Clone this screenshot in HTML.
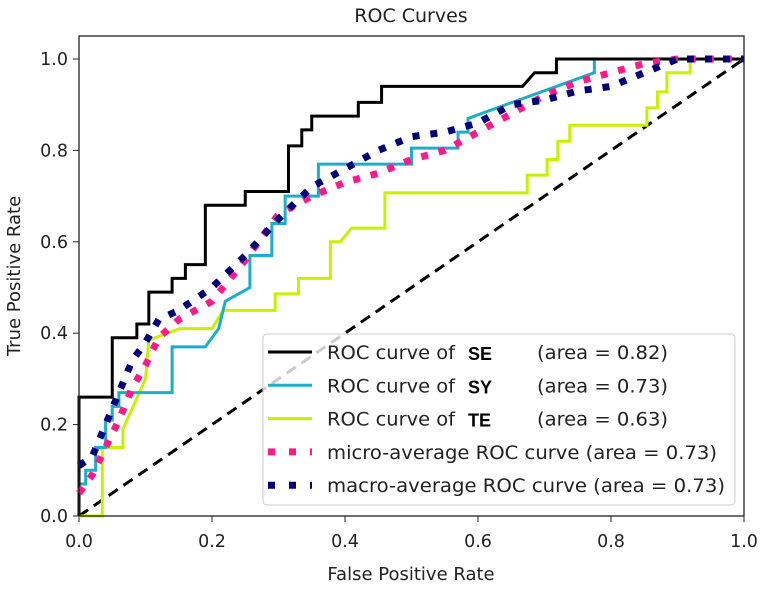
<!DOCTYPE html>
<html><head><meta charset="utf-8"><style>
body{margin:0;background:#fff;}
svg text{font-family:"DejaVu Sans","Liberation Sans",sans-serif;fill:#222;}
</style></head><body>
<svg id="chart" width="762" height="585" viewBox="0 0 762 585">
<text x="411" y="22" font-size="19" text-anchor="middle">ROC Curves</text>
<g id="ticks"></g>
<g id="series"></g>
<rect x="79" y="36" width="665" height="480" fill="none" stroke="#222" stroke-width="1.3"/>
<text x="411" y="580" font-size="18" text-anchor="middle">False Positive Rate</text>
<text transform="translate(20,276) rotate(-90)" font-size="18" text-anchor="middle">True Positive Rate</text>
<g id="legend"></g>
</svg>
<script>
const xTicks=[0,0.2,0.4,0.6,0.8,1.0];
const yTicks=[0,0.2,0.4,0.6,0.8,1.0];
const seX=[0,0,0.05,0.05,0.087,0.087,0.105,0.105,0.14,0.14,0.16,0.16,0.19,0.19,0.25,0.25,0.315,0.315,0.335,0.335,0.35,0.35,0.42,0.42,0.455,0.455,0.667,0.685,0.718,0.718,1];
const seY=[0,0.26,0.26,0.39,0.39,0.42,0.42,0.49,0.49,0.52,0.52,0.55,0.55,0.68,0.68,0.71,0.71,0.81,0.81,0.845,0.845,0.875,0.875,0.905,0.905,0.94,0.94,0.97,0.97,1,1];
const syX=[0,0,0.01,0.01,0.025,0.025,0.04,0.04,0.05,0.05,0.06,0.06,0.14,0.14,0.19,0.21,0.22,0.22,0.257,0.257,0.29,0.29,0.31,0.31,0.36,0.36,0.5,0.5,0.57,0.57,0.585,0.585,0.775,0.775,1];
const syY=[0,0.07,0.07,0.1,0.1,0.15,0.15,0.21,0.21,0.24,0.24,0.27,0.27,0.37,0.37,0.41,0.47,0.47,0.5,0.57,0.57,0.64,0.64,0.70,0.70,0.77,0.77,0.805,0.805,0.84,0.84,0.87,0.97,1,1];
const teX=[0,0.035,0.035,0.066,0.066,0.10,0.105,0.152,0.2,0.217,0.295,0.295,0.33,0.33,0.378,0.378,0.393,0.41,0.46,0.46,0.674,0.674,0.704,0.704,0.72,0.72,0.738,0.738,0.854,0.854,0.87,0.87,0.884,0.884,0.919,0.919,1];
const teY=[0,0,0.15,0.15,0.19,0.30,0.385,0.41,0.41,0.45,0.45,0.486,0.486,0.52,0.52,0.60,0.60,0.63,0.63,0.707,0.707,0.746,0.746,0.78,0.78,0.82,0.82,0.855,0.855,0.893,0.893,0.928,0.928,0.97,0.97,1,1];
const microX=[0,0.02,0.04,0.06,0.08,0.1,0.12,0.15,0.2,0.25,0.3,0.35,0.4,0.45,0.5,0.55,0.6,0.65,0.7,0.75,0.8,0.85,0.9,1];
const microY=[0.05,0.09,0.15,0.21,0.28,0.33,0.39,0.43,0.47,0.56,0.66,0.70,0.73,0.75,0.78,0.80,0.84,0.88,0.92,0.95,0.97,0.99,1.0,1.0];
const macroX=[0,0.02,0.04,0.06,0.08,0.1,0.12,0.15,0.2,0.25,0.3,0.35,0.4,0.45,0.5,0.55,0.6,0.65,0.7,0.75,0.8,0.85,0.9,1];
const macroY=[0.11,0.13,0.2,0.27,0.34,0.38,0.43,0.45,0.5,0.57,0.65,0.72,0.76,0.8,0.83,0.84,0.86,0.9,0.91,0.93,0.94,0.97,1.0,1.0];
const diagX=[0,1];
const diagY=[0,1];

const NS="http://www.w3.org/2000/svg";
const X0=79,X1=744,Y0=516,Y1=59;
function sx(v){return X0+v*(X1-X0);}
function sy(v){return Y0-v*(Y0-Y1);}
const tg=document.getElementById('ticks');
xTicks.forEach(t=>{
  const l=document.createElementNS(NS,'line');
  l.setAttribute('x1',sx(t));l.setAttribute('x2',sx(t));l.setAttribute('y1',516);l.setAttribute('y2',522);l.setAttribute('stroke','#222');
  
  
  tg.appendChild(l);
  const tx=document.createElementNS(NS,'text');
  tx.setAttribute('x',sx(t));tx.setAttribute('y',547);tx.setAttribute('font-size','17.5');tx.setAttribute('text-anchor','middle');
  tx.textContent=t.toFixed(1);
  
  
  tg.appendChild(tx);
});
yTicks.forEach(t=>{
  const l=document.createElementNS(NS,'line');
  l.setAttribute('x1',73);l.setAttribute('x2',79);l.setAttribute('y1',sy(t));l.setAttribute('y2',sy(t));l.setAttribute('stroke','#222');
  
  
  tg.appendChild(l);
  const tx=document.createElementNS(NS,'text');
  tx.setAttribute('x',68);tx.setAttribute('y',sy(t)+6);tx.setAttribute('font-size','17.5');tx.setAttribute('text-anchor','end');
  tx.textContent=t.toFixed(1);
  
  
  tg.appendChild(tx);
});
const sg=document.getElementById('series');
function line(xs,ys,color,w,dash,name){
  const p=document.createElementNS(NS,'polyline');
  p.setAttribute('points',xs.map((x,i)=>sx(x)+','+sy(ys[i])).join(' '));
  p.setAttribute('fill','none');p.setAttribute('stroke',color);p.setAttribute('stroke-width',w);
  if(dash)p.setAttribute('stroke-dasharray',dash);
  
  
  sg.appendChild(p);
}
line(diagX,diagY,'#000',3,'11,7','diagonal-reference-line');
line(teX,teY,'#c8f000',3,null,'te-curve');
line(syX,syY,'#1aaec8',3,null,'sy-curve');
line(seX,seY,'#000',3,null,'se-curve');
line(microX,microY,'#ff1a8c',7,'7,11','micro-average-curve');
line(macroX,macroY,'#00007a',7,'7,11','macro-average-curve');

const lg=document.getElementById('legend');
const box=document.createElementNS(NS,'rect');
box.setAttribute('x',263);box.setAttribute('y',334);box.setAttribute('width',472);box.setAttribute('height',171);box.setAttribute('rx',4);
box.setAttribute('fill','rgba(255,255,255,0.8)');box.setAttribute('stroke','#ccc');


lg.appendChild(box);
const entries=[
 ['#000',3,null,'ROC curve of','SE','(area = 0.82)'],
 ['#1aaec8',3,null,'ROC curve of','SY','(area = 0.73)'],
 ['#c8f000',3,null,'ROC curve of','TE','(area = 0.63)'],
 ['#ff1a8c',7,'7,14','micro-average ROC curve (area = 0.73)',null,null],
 ['#00007a',7,'7,14','macro-average ROC curve (area = 0.73)',null,null]];
const fullLens=[0,0,0,390,398];
entries.forEach((e,i)=>{
  const y=352+i*33.3;
  const g=document.createElementNS(NS,'g');
  
  
  const l=document.createElementNS(NS,'line');
  l.setAttribute('x1',268);l.setAttribute('x2',312);l.setAttribute('y1',y);l.setAttribute('y2',y);
  l.setAttribute('stroke',e[0]);l.setAttribute('stroke-width',e[1]);if(e[2])l.setAttribute('stroke-dasharray',e[2]);
  g.appendChild(l);
  const t=document.createElementNS(NS,'text');
  t.setAttribute('x',327);t.setAttribute('y',y+7);t.setAttribute('font-size','19');t.textContent=e[3];
  t.setAttribute('textLength',e[4]?128:fullLens[i]);t.setAttribute('lengthAdjust','spacingAndGlyphs');
  g.appendChild(t);
  if(e[4]){
    const b=document.createElementNS(NS,'text');
    b.setAttribute('x',468);b.setAttribute('y',y+8);b.setAttribute('font-size','18');b.setAttribute('font-weight','bold');
    b.setAttribute('style','font-family:"Liberation Sans",sans-serif;fill:#000');b.textContent=e[4];
    g.appendChild(b);
    const a=document.createElementNS(NS,'text');
    a.setAttribute('x',537);a.setAttribute('y',y+7);a.setAttribute('font-size','19');a.textContent=e[5];
    a.setAttribute('textLength',131);a.setAttribute('lengthAdjust','spacingAndGlyphs');
    g.appendChild(a);
  }
  lg.appendChild(g);
});
</script>
</body></html>
